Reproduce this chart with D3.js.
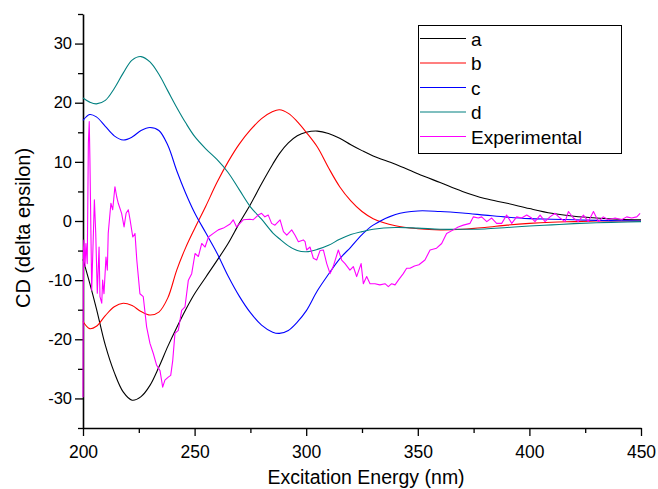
<!DOCTYPE html>
<html>
<head>
<meta charset="utf-8">
<script src="https://cdn.jsdelivr.net/npm/d3@7"></script>
<style>
  body { margin: 0; background: #fff; }
  svg { font-family: "Liberation Sans", Arial, Helvetica, sans-serif; }
  .axis path, .axis line { stroke: #000; }
  .axis text { fill: #000; }
</style>
</head>
<body>
<div id="chart"></div>
<script>
var svgWidth = 658;
var svgHeight = 489;

// wavelength grid used by the four calculated spectra
var nm = [200, 203, 206, 210, 214, 218, 222, 226, 230, 234, 238, 242, 246, 250, 255, 260, 265, 270, 275, 280,
  285, 288, 292, 296, 300, 305, 310, 315, 320, 325, 330, 340, 350, 360, 370, 380, 390, 400, 410, 420, 430, 440, 450];

var seriesA = [-6.5, -10.5, -14.8, -21.0, -25.6, -28.9, -30.3, -29.7, -27.8, -24.7, -21.2, -18.0, -15.0, -12.3, -9.5, -6.7, -3.8, -0.4, 2.8, 6.3,
  9.6, 11.4, 13.2, 14.4, 15.0, 15.2, 14.8, 14.0, 12.9, 11.9, 11.0, 9.6, 8.0, 6.5, 5.0, 3.8, 3.0, 2.1, 1.3, 0.8, 0.5, 0.3, 0.2];
var seriesB = [-17.0, -18.2, -17.8, -16.0, -14.5, -13.9, -14.3, -15.3, -15.9, -15.4, -13.0, -8.3, -4.5, -1.3, 2.5, 6.5, 10.0, 13.0, 15.4, 17.3,
  18.5, 18.8, 18.2, 16.8, 15.0, 12.5, 9.0, 5.8, 3.4, 1.6, 0.4, -0.8, -1.3, -1.5, -1.4, -1.1, -0.7, -0.4, -0.2, -0.1, 0, 0, 0];
var seriesC = [17.0, 18.0, 17.6, 16.0, 14.4, 13.7, 14.2, 15.3, 15.8, 15.3, 12.8, 8.5, 4.7, 1.4, -2.0, -5.4, -9.3, -12.7, -15.5, -17.6,
  -18.8, -19.0, -18.5, -17.1, -15.2, -11.8, -9.0, -6.4, -4.4, -2.3, -0.7, 1.1, 1.7, 1.6, 1.35, 1.0, 0.65, 0.4, 0.3, 0.2, 0.1, 0.05, 0];
var seriesD = [20.8, 20.1, 19.8, 20.4, 22.4, 25.0, 27.2, 27.8, 26.9, 24.8, 22.0, 19.2, 16.6, 14.3, 12.2, 10.4, 8.2, 5.3, 2.4, 0.3,
  -2.0, -3.0, -4.2, -5.0, -5.2, -4.8, -4.1, -3.1, -2.3, -1.8, -1.4, -1.1, -1.2, -1.4, -1.4, -1.35, -1.1, -0.85, -0.65, -0.45, -0.3, -0.2, -0.1];

var expNm = [200.0, 200.2, 200.4, 200.9, 201.3, 201.9, 202.4, 202.8, 203.1, 203.9, 205.1, 205.7, 206.4, 207.2, 207.6, 208.4, 208.8, 209.4,
  210.3, 210.9, 211.3, 212.5, 213.3, 214.3, 215.1, 215.8, 217.3, 218.4, 219.3, 220.3, 221.1, 222.3, 223.3, 224.1, 225.5, 227.0,
  228.5, 230.0, 231.5, 233.0, 234.5, 235.7, 236.7, 238.2, 239.3, 240.2, 241.2, 242.7, 244.2, 245.7, 247.2, 248.7, 250.2, 251.7,
  253.2, 254.7, 256.2, 258.4, 260.6, 262.9, 265.9, 267.3, 268.8, 271.8, 274.8, 276.2, 278.5, 280.0, 281.5, 283.0, 284.5, 286.0,
  288.3, 289.8, 291.3, 293.5, 295.0, 296.5, 298.7, 299.5, 300.2, 301.7, 303.2, 304.7, 306.2, 307.7, 308.4, 309.2, 310.7, 312.1,
  314.4, 315.9, 317.4, 319.6, 321.1, 322.6, 324.6, 325.6, 327.1, 328.6, 330.8, 333.0, 335.3, 336.8, 338.3, 339.8, 341.3, 343.5,
  345.0, 346.5, 348.5, 350.5, 353.2, 355.5, 358.4, 360.7, 362.9, 365.9, 368.1, 370.4, 373.4, 374.9, 377.1, 378.6, 380.9, 383.1,
  385.3, 387.6, 389.8, 392.1, 394.3, 396.5, 398.8, 401.0, 402.5, 404.8, 407.0, 409.2, 411.5, 413.7, 416.0, 417.5, 419.7, 421.9,
  424.2, 426.4, 428.7, 430.9, 433.1, 435.4, 438.4, 441.3, 443.6, 445.8, 448.1, 449.6];
var expCd = [-29.8, -5.0, -3.2, -7.7, -3.8, -7.2, 13.2, 16.8, 10.3, -11.7, 3.6, -2.0, -12.2, -4.4, -12.8, -13.9, -10.0, -12.3,
  -6.1, -8.3, -2.1, 3.0, 1.9, 5.8, 4.1, 3.0, 1.3, -1.0, 1.3, 1.9, 0.2, -2.7, -2.1, -6.6, -12.3, -12.8,
  -17.9, -20.7, -22.4, -24.4, -25.3, -28.1, -26.9, -26.4, -26.1, -23.6, -19.0, -18.5, -15.1, -14.5, -10.0, -8.9, -5.5, -6.0,
  -3.8, -4.4, -2.7, -2.1, -1.5, -1.2, -0.5, 0.2, -1.0, 0.2, 0.3, 0.2, 1.0, 1.3, 0.7, 1.0, -0.4, -0.7,
  0.2, -1.8, -2.4, -1.5, -2.4, -3.5, -3.2, -3.5, -4.9, -4.4, -6.3, -6.6, -5.0, -4.9, -6.0, -7.2, -8.9, -7.7,
  -4.9, -6.6, -7.2, -8.3, -7.7, -9.4, -7.2, -10.6, -9.4, -10.6, -10.6, -10.8, -10.6, -11.1, -10.6, -10.8, -10.0, -8.9,
  -8.0, -8.0, -7.6, -7.4, -6.6, -4.9, -4.6, -3.8, -2.1, -1.5, -1.0, -0.7, -0.4, 0.7, 0.5, 0.7, -0.1, 0.5,
  -0.4, -0.4, 1.0, -0.4, 0.7, 0.5, 1.0, 0.5, -0.1, 1.0, -0.1, 0.7, 1.3, 0.5, -0.1, 1.6, 0.5, -0.1,
  1.0, -0.1, 1.6, -0.1, 0.7, 0.2, 0.5, 0.2, 0.7, 0.5, 0.7, 1.3];

var legendLabels = ["a", "b", "c", "d", "Experimental"];
var colors = ["#000000", "#ff0000", "#0000ff", "#008080", "#ff00ff"];

var xTicks = [200, 250, 300, 350, 400, 450];
var xMinor = [225, 275, 325, 375, 425];
var yTicks = [-30, -20, -10, 0, 10, 20, 30];
var yMinor = [-35, -25, -15, -5, 5, 15, 25, 35];

var svg = d3.select("#chart")
  .append("svg")
  .attr("width", svgWidth)
  .attr("height", svgHeight);

var x = d3.scaleLinear().domain([200, 450]).range([83, 641]);
var y = d3.scaleLinear().domain([-35, 35]).range([428, 14]);

// plain hyphen for negatives, like the original
var plain = d => String(d);

// axes: minor ticks first, then major ticks with labels
svg.append("g")
  .attr("class", "axis")
  .attr("transform", "translate(0,428)")
  .call(d3.axisBottom(x).tickValues(xMinor).tickSize(5).tickSizeOuter(0).tickFormat(""))
  .call(g => g.select(".domain").remove())
  .selectAll("line").attr("stroke-width", 1.3);

var xAxis = svg.append("g")
  .attr("class", "axis")
  .attr("transform", "translate(0,428)")
  .call(d3.axisBottom(x).tickValues(xTicks).tickSize(8).tickSizeOuter(0).tickPadding(10).tickFormat(plain));
xAxis.select(".domain").attr("stroke-width", 1.6);
xAxis.selectAll("line").attr("stroke-width", 1.3);
xAxis.selectAll("text").attr("font-size", 17.5).attr("font-family", null);

svg.append("g")
  .attr("class", "axis")
  .attr("transform", "translate(83,0)")
  .call(d3.axisLeft(y).tickValues(yMinor).tickSize(5).tickSizeOuter(0).tickFormat(""))
  .call(g => g.select(".domain").remove())
  .selectAll("line").attr("stroke-width", 1.3);

var yAxis = svg.append("g")
  .attr("class", "axis")
  .attr("transform", "translate(83,0)")
  .call(d3.axisLeft(y).tickValues(yTicks).tickSize(8).tickSizeOuter(0).tickPadding(3).tickFormat(plain));
yAxis.select(".domain").attr("stroke-width", 1.6);
yAxis.selectAll("line").attr("stroke-width", 1.3);
yAxis.selectAll("text").attr("font-size", 16.5).attr("font-family", null);

// axis titles
svg.append("text")
  .attr("x", 366)
  .attr("y", 484)
  .attr("text-anchor", "middle")
  .attr("font-size", 19.5)
  .text("Excitation Energy (nm)");

svg.append("text")
  .attr("transform", "translate(30,228) rotate(-90)")
  .attr("text-anchor", "middle")
  .attr("font-size", 20)
  .text("CD (delta epsilon)");

// curves
var smooth = d3.line()
  .x(d => x(d[0]))
  .y(d => y(d[1]))
  .curve(d3.curveCatmullRom.alpha(0.5));

var calc = [seriesA, seriesB, seriesC, seriesD];
calc.forEach(function(vals, i) {
  svg.append("path")
    .datum(nm.map((v, j) => [v, vals[j]]))
    .attr("fill", "none")
    .attr("stroke", colors[i])
    .attr("stroke-width", 1.1)
    .attr("d", smooth);
});

var jagged = d3.line()
  .x(d => x(d[0]))
  .y(d => y(d[1]));

svg.append("path")
  .datum(expNm.map((v, j) => [v, expCd[j]]))
  .attr("fill", "none")
  .attr("stroke", colors[4])
  .attr("stroke-width", 1.1)
  .attr("stroke-linejoin", "round")
  .attr("d", jagged);

// legend
var legend = svg.append("g");
legend.append("rect")
  .attr("x", 418.5).attr("y", 25.5)
  .attr("width", 203).attr("height", 128)
  .attr("fill", "#fff")
  .attr("stroke", "#000")
  .attr("stroke-width", 1);

legendLabels.forEach(function(label, i) {
  var ly = 38.5 + i * 24.5;
  legend.append("line")
    .attr("x1", 420).attr("x2", 466)
    .attr("y1", ly).attr("y2", ly)
    .attr("stroke", colors[i])
    .attr("stroke-width", 1.1);
  legend.append("text")
    .attr("x", 471)
    .attr("y", ly + 7)
    .attr("font-size", 19)
    .text(label);
});
</script>
</body>
</html>
